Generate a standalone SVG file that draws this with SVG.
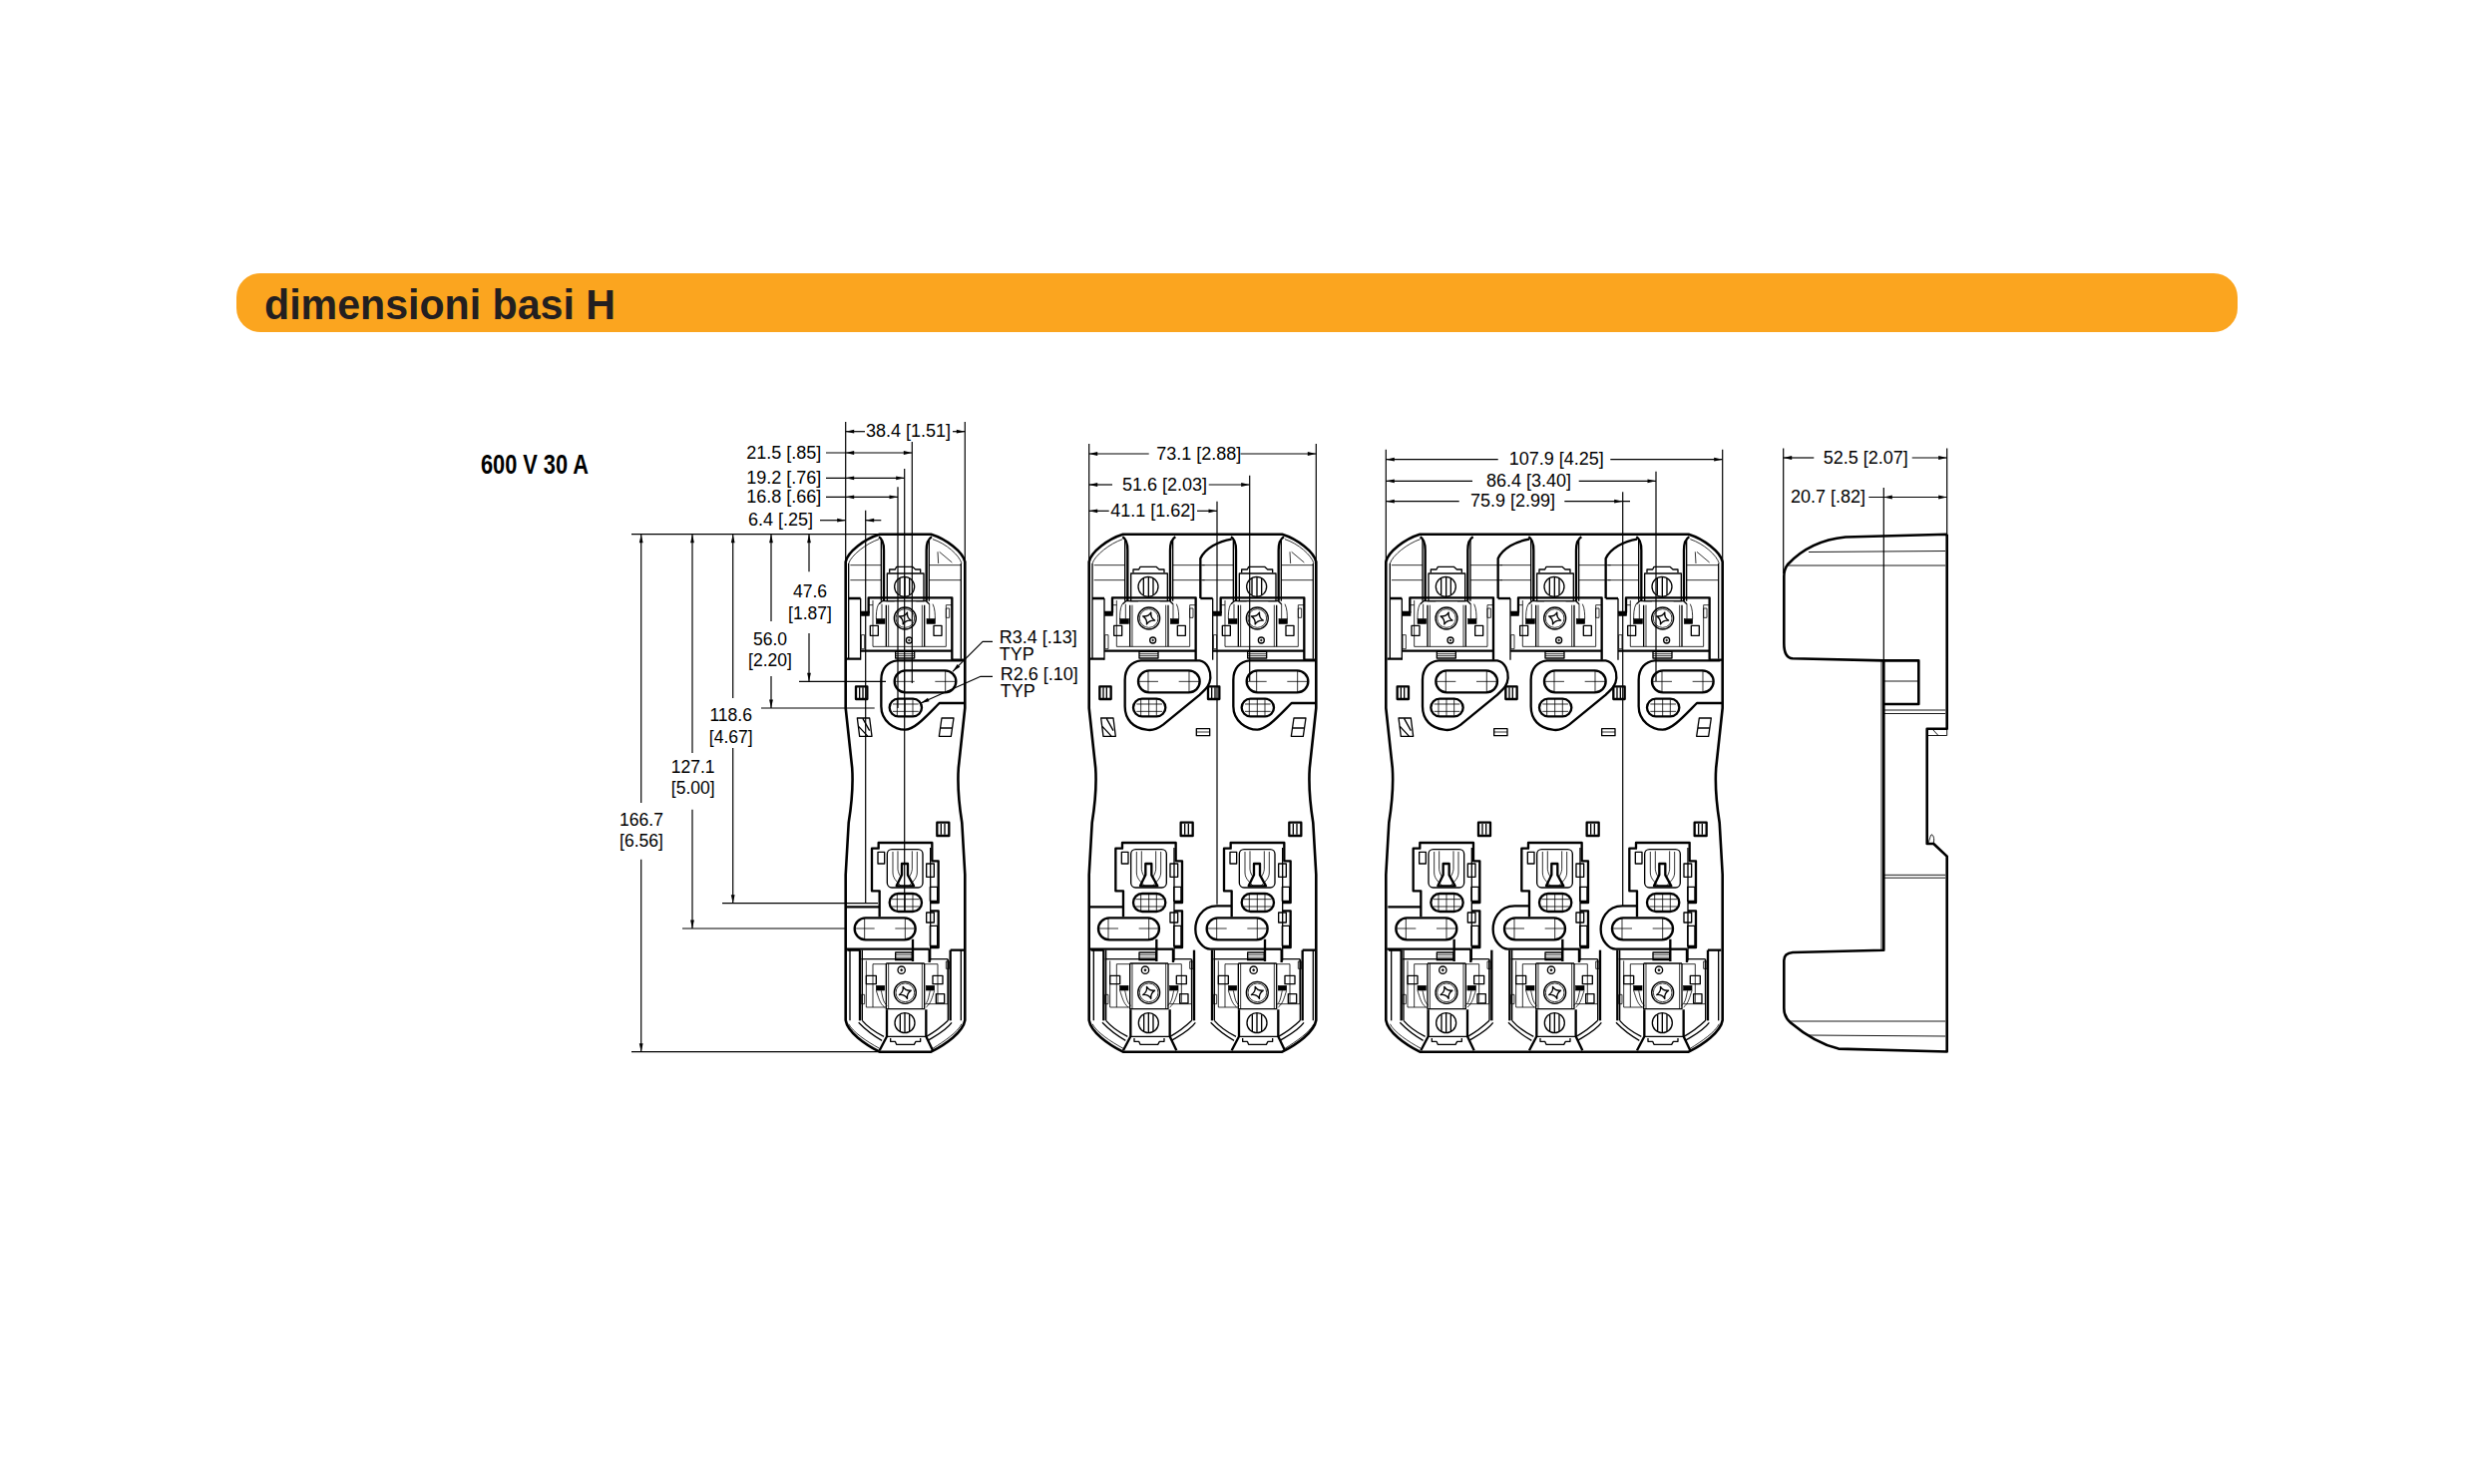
<svg xmlns="http://www.w3.org/2000/svg" xmlns:xlink="http://www.w3.org/1999/xlink" width="2480" height="1488" viewBox="0 0 2480 1488">
<style>
.k,.m,.t,.o,.i,.d,.ae,.se{fill:none;stroke:#000;stroke-linejoin:round}
.k{stroke-width:7}.m{stroke-width:4}.t{stroke-width:2.4}
.o{stroke-width:2.6}.i{stroke-width:.9}.d{stroke-width:1.2}
.ae{stroke-width:1.2;marker-end:url(#ah)}
.se{stroke-width:1.2;marker-start:url(#ah);marker-end:url(#ah)}
.lab{font-family:"Liberation Sans",Arial,sans-serif;font-size:18px;fill:#000}
.c{text-anchor:middle;font-size:17.5px}
.dk{fill:#000;stroke:#000;stroke-width:2}
</style>
<defs>
<marker id="ah" markerUnits="userSpaceOnUse" markerWidth="10" markerHeight="5" refX="8.5" refY="2" orient="auto-start-reverse" overflow="visible"><path d="M0,.1 L8.5,2 L0,3.9Z" fill="#000"/></marker>
<path id="star" d="M0,-19 Q3,-4 19,0 Q3,4 0,19 Q-3,4 -19,0 Q-3,-4 0,-19Z" class="m"/>

<g id="ut">
<path class="k" d="M783,385 C795,392 798,405 798,425 V578"/>
<path class="k" d="M942,385 C930,392 926,405 926,425 V578"/>
<path class="m" d="M790,392 V578 M934,392 V578"/>
<path class="t" d="M697,470 H790 M934,470 H1030 M697,515 H790 M934,515 H1030"/>
<path class="m" d="M808,578 V495 H918 V578 M808,495 H918"/>
<path class="m" d="M815,493 V483 H832 L836,475 H884 L893,483 H908 V493"/>
<circle class="m" cx="860" cy="535" r="30"/>
<path class="m" d="M846,510 V560 M861,505 V565 M875,510 V560"/>
<path class="k" d="M728,612 H752 V568 H1003 V755"/>
<path class="m" d="M728,570 V755"/>
<path class="k" d="M728,728 H1003"/>
<path class="t" d="M765,576 V715 H985 V590 M985,590 H1003 M765,590 H752"/>
<path class="m" d="M805,590 V715 M920,590 V715 M805,578 H920"/>
<path class="t" d="M812,590 V715 M913,590 V715"/>
<path class="m" d="M783,587 L793,578 H830 M895,578 H925 L935,587"/>
<path class="t" d="M782,587 C775,600 775,620 775,632 M792,587 V632 M935,587 V632 M945,587 C952,600 952,620 952,632"/>
<rect class="dk" x="775" y="632" width="26" height="14"/>
<rect class="dk" x="927" y="632" width="25" height="14"/>
<rect class="m" x="757" y="652" width="24" height="30"/>
<rect class="m" x="948" y="652" width="24" height="30"/>
<rect class="dk" x="730" y="610" width="24" height="12"/>
<rect class="t" x="985" y="600" width="10" height="28"/>
<rect class="t" x="730" y="680" width="10" height="42"/>
<circle class="m" cx="862" cy="630" r="33"/>
<circle class="t" cx="862" cy="630" r="28"/>
<use href="#star" transform="translate(862,630) rotate(20)"/>
<circle class="m" cx="874" cy="696" r="9"/><circle class="dk" cx="874" cy="696" r="2.5"/>
<rect class="m" x="833" y="730" width="57" height="20"/>
<path class="t" d="M833,737 H890 M833,743 H890"/>
<rect class="k" x="830" y="787" width="185" height="66" rx="33"/>
<path class="t" d="M860,787 V853 M830,820 H890 M952,820 H1015 M983,787 V853"/>
<rect class="k" x="815" y="872" width="97" height="53" rx="26.5"/>
<path class="t" d="M825,888 H902 M825,910 H902 M838,874 V923 M862,872 V925 M885,874 V923"/>
<rect class="k" x="714" y="835" width="34" height="38"/>
<path class="m" d="M725,838 V870 M735,838 V870"/>
</g>
<g id="uFirst">
<path class="t" d="M692,465 C700,440 745,405 783,392"/>
<path class="m" d="M692,465 V752"/>
<path class="k" d="M692,570 H728 M684,752 H728"/>
<path class="m" d="M718,930 H755 L762,985 H725Z M722,955 L750,985 M735,932 L755,968"/>
</g>
<g id="uInner">
<path class="k" d="M691,570 V450 C705,420 745,398 785,392"/>
<path class="k" d="M691,570 H728 M691,570"/>
<rect class="m" x="679" y="962" width="40" height="21"/>
<path class="t" d="M679,972 H719"/>
</g>
<g id="uLast">
<path class="t" d="M1032,465 C1025,440 985,405 945,392 M960,430 L962,465 M965,430 L1003,462"/>
<path class="m" d="M1030,465 V752"/>
<path class="k" d="M1003,755 H1040"/>
<path class="m" d="M972,930 H1008 L1000,985 H964Z M968,960 H1003"/>
</g>
<path id="plateClosed" class="k" d="M838,757 H1015 C1040,762 1048,790 1047,810 C1045,835 1030,845 1015,860 L905,950 C885,965 870,968 855,965 C815,960 790,935 790,895 V815 C790,780 810,760 838,757Z"/>
<path id="plateOpen" class="k" d="M1040,885 H965 C925,925 890,965 862,965 C830,965 790,940 790,895 V815 C790,780 810,760 838,757 H1035"/>

<g id="lt">
<path class="k" d="M785,478 V400 H762 V272 H782 V255 H943 V310 H962 V435 H938 M938,460 H962 V570 H938"/>
<path class="m" d="M938,270 V610"/>
<rect class="m" x="808" y="275" width="107" height="115" rx="14"/>
<path class="t" d="M825,282 V345 C825,365 842,375 850,386 M898,282 V345 C898,365 880,375 873,386 M840,280 V335 C842,350 848,355 850,360 M883,280 V335 C881,350 875,355 873,360"/>
<path class="k" d="M852,352 V318 H870 V352 L888,385 H836Z"/>
<rect class="m" x="926" y="318" width="23" height="40"/>
<rect class="m" x="780" y="283" width="20" height="35"/>
<rect class="m" x="937" y="388" width="22" height="42"/>
<rect class="m" x="926" y="465" width="23" height="30"/>
<rect class="m" x="937" y="505" width="22" height="60"/>
<rect class="k" x="815" y="408" width="97" height="54" rx="27"/>
<path class="t" d="M822,425 H905 M822,447 H905 M838,410 V460 M862,408 V462 M885,410 V460"/>
<rect class="k" x="710" y="481" width="183" height="66" rx="33"/>
<path class="t" d="M710,513 H770 M832,513 H893 M740,481 V547 M862,481 V547"/>
<path class="k" d="M885,545 V612 M935,575 V615"/>
<path class="k" d="M885,575 H935"/>
<rect class="m" x="833" y="585" width="50" height="23"/>
<path class="t" d="M833,592 H883 M833,600 H883"/>
<path class="m" d="M805,618 H920 M730,605 H885 M938,605 H990"/>
<path class="m" d="M805,618 V755 H920 V618"/>
<path class="t" d="M812,618 V755 M913,618 V755"/>
<path class="t" d="M745,610 V750 H805 M765,620 V750 M960,620 V735 M990,605 V740 H925 M765,620 H805 M920,620 H960"/>
<rect class="m" x="745" y="655" width="30" height="25"/>
<rect class="dk" x="775" y="685" width="25" height="14"/>
<rect class="dk" x="925" y="685" width="25" height="14"/>
<rect class="m" x="945" y="655" width="30" height="25"/>
<rect class="m" x="955" y="710" width="25" height="28"/>
<rect class="t" x="985" y="612" width="10" height="22"/>
<rect class="t" x="730" y="712" width="10" height="28"/>
<path class="t" d="M775,700 C782,720 785,738 800,750 M790,700 C795,720 795,735 808,745 M950,700 C943,720 940,738 925,750 M937,700 C932,720 932,735 918,745"/>
<circle class="m" cx="851" cy="638" r="11"/><circle class="dk" cx="851" cy="638" r="3"/>
<circle class="m" cx="862" cy="706" r="33"/>
<circle class="t" cx="862" cy="706" r="28"/>
<use href="#star" transform="translate(862,706) rotate(-20)"/>
<circle class="m" cx="861" cy="797" r="30"/>
<path class="m" d="M847,772 V822 M861,767 V827 M875,772 V822"/>
<path class="k" d="M807,757 V838 L785,880 M925,757 V838 L945,880"/>
<path class="m" d="M807,838 H925"/>
<path class="m" d="M818,843 V853 H832 L836,862 H889 L894,853 H908 V843"/>
<path class="k" d="M726,578 V790"/>
<path class="m" d="M733,578 V790"/>
<path class="k" d="M998,578 V790"/>
<path class="m" d="M991,605 V790"/>
<path class="m" d="M722,796 C745,820 765,835 792,850 M733,790 C750,810 772,825 798,838"/>
<path class="m" d="M1002,796 C985,820 955,835 930,850 M991,790 C970,810 950,825 926,838"/>
<rect class="k" x="958" y="194" width="36" height="40"/>
<path class="m" d="M970,198 V230 M981,198 V230"/>
</g>
<g id="lFirst">
<path class="k" d="M686,448 H785 M683,575 H885"/>
<path class="k" d="M688,578 H726"/>
<path class="m" d="M696,578 V790"/>
<path class="t" d="M692,800 C705,825 745,852 785,874"/>
</g>
<g id="lInner">
<path class="k" d="M785,445 H741 C691,445 676,490 676,515 C676,550 701,575 721,575 H885"/>
</g>
<g id="lLast">
<path class="k" d="M998,578 H1038"/>
<path class="m" d="M1030,578 V790"/>
<path class="t" d="M1032,800 C1020,825 980,852 945,874"/>
</g>
</defs>

<rect width="2480" height="1488" fill="#fff"/>

<g id="banner">
<rect x="237" y="274" width="2006" height="59" rx="24" fill="#fba51f"/>
<text x="265" y="320" font-family="'Liberation Sans',Arial,sans-serif" font-weight="700" font-size="42" fill="#231f20" textLength="352" lengthAdjust="spacingAndGlyphs">dimensioni basi H</text>
</g>
<g id="rating">
<text x="482" y="475" font-family="'Liberation Sans',Arial,sans-serif" font-weight="700" font-size="27" fill="#000" textLength="108" lengthAdjust="spacingAndGlyphs">600 V 30 A</text>
</g>

<g id="base-1-pole">
<path class="o" d="M847.7,563.3 c2,-10 19,-23 34,-27.6 H933.3 c15,4.6 32,17.6 34,27.6 V710 l-6.5,60 c-1,15 -.5,30 3.5,55 l3,52 V1023 c-2,12 -19,24 -34,31.7 H881.7 c-15,-7.7 -32,-19.7 -34,-31.7 V877 l3,-52 c4,-25 4.5,-40 3.5,-55 l-6.5,-60 Z"/>
<g transform="translate(620,410) scale(.33333)">
<use href="#ut"/><use href="#uFirst"/><use href="#uLast"/><use href="#plateOpen"/>
</g>
<g transform="translate(620,760) scale(.33333)">
<use href="#lt"/><use href="#lFirst"/><use href="#lLast"/>
</g>
</g>

<g id="base-2-pole">
<path class="o" d="M1091.7,563.3 c2,-10 19,-23 34,-27.6 H1285.3 c15,4.6 32,17.6 34,27.6 V710 l-6.5,60 c-1,15 -.5,30 3.5,55 l3,52 V1023 c-2,12 -19,24 -34,31.7 H1125.7 c-15,-7.7 -32,-19.7 -34,-31.7 V877 l3,-52 c4,-25 4.5,-40 3.5,-55 l-6.5,-60 Z"/>
<g transform="translate(620,410) scale(.33333)">
<g transform="translate(733,0)"><use href="#ut"/><use href="#uFirst"/><use href="#plateClosed"/></g>
<g transform="translate(1059,0)"><use href="#ut"/><use href="#uInner"/><use href="#uLast"/><use href="#plateOpen"/></g>
</g>
<g transform="translate(620,760) scale(.33333)">
<g transform="translate(733,0)"><use href="#lt"/><use href="#lFirst"/></g>
<g transform="translate(1059,0)"><use href="#lt"/><use href="#lInner"/><use href="#lLast"/></g>
</g>
</g>

<g id="base-3-pole">
<path class="o" d="M1389.3,563.3 c2,-10 19,-23 34,-27.6 H1692.7 c15,4.6 32,17.6 34,27.6 V710 l-6.5,60 c-1,15 -.5,30 3.5,55 l3,52 V1023 c-2,12 -19,24 -34,31.7 H1423.3 c-15,-7.7 -32,-19.7 -34,-31.7 V877 l3,-52 c4,-25 4.5,-40 3.5,-55 l-6.5,-60 Z"/>
<g transform="translate(620,410) scale(.33333)">
<g transform="translate(1628,0)"><use href="#ut"/><use href="#uFirst"/><use href="#plateClosed"/></g>
<g transform="translate(1954,0)"><use href="#ut"/><use href="#uInner"/><use href="#plateClosed"/></g>
<g transform="translate(2278,0)"><use href="#ut"/><use href="#uInner"/><use href="#uLast"/><use href="#plateOpen"/></g>
</g>
<g transform="translate(620,760) scale(.33333)">
<g transform="translate(1628,0)"><use href="#lt"/><use href="#lFirst"/></g>
<g transform="translate(1954,0)"><use href="#lt"/><use href="#lInner"/></g>
<g transform="translate(2278,0)"><use href="#lt"/><use href="#lInner"/><use href="#lLast"/></g>
</g>
</g>

<g id="side-view">
<path class="o" d="M1951.7,535.8 L1850,538.5 C1825,541 1805,552 1792,566 C1789,570 1788.3,574 1788.3,578 V645 C1788.3,655 1791,660 1797,660.3 L1888.3,662.4 V952.8 L1797,955 C1791,955.5 1788.3,958 1788.3,963 V1011 C1788.3,1018 1791,1022 1795,1025.4 C1810,1038 1825,1047 1843,1051.6 L1951.7,1054.5 V858.6 L1938.3,846 H1931.7 V730.8 H1951.7 V535.8"/>
<path class="o" d="M1888.3,662.4 H1923.3 V706 H1888.3"/>
<path class="i" d="M1886,662 V953 M1888.3,683 H1923.3 M1813,553.5 L1950,552.5 M1792,567 H1950 M1888.3,712 H1950 M1888.3,715.5 H1950 M1888.3,877.3 H1950 M1888.3,880.2 H1950 M1795,1024 H1950 M1813,1038 L1950,1039 M1931.7,737.5 H1951.7 V730.8 M1937,731 L1943,737.5 M1938,846 C1940,840 1937,836 1936,837 C1934,840 1934,845 1932,846"/>
</g>

<g id="connectors">
<g id="dim-1-pole">
<path class="d" d="M847.7,423 V563 M967.3,423 V563 M914.3,443 V685 M906.7,470 V915 M900,488.3 V710 M867.7,511.7 V905"/>
<path class="ae" d="M867,432.7 H847.7"/><path class="ae" d="M955,432.7 H967.3"/>
<path class="d" d="M828,454 H847.7 M828,479.3 H847.7 M828,498.3 H847.7"/>
<path class="se" d="M847.7,454 H914.3"/><path class="se" d="M847.7,479.3 H906.7"/><path class="se" d="M847.7,498.3 H900"/>
<path class="ae" d="M822,521.7 H847.7"/><path class="ae" d="M883.3,521.7 H867.7"/>
<path class="d" d="M633,535.7 H882 M633,1054.7 H882 M684,931 H847.7 M724,905.7 H880 M763,710 H876.7 M801,683.3 H888"/>
<path class="ae" d="M642.7,805 V535.7"/><path class="ae" d="M642.7,861.7 V1054.7"/>
<path class="ae" d="M694,755 V535.7"/><path class="ae" d="M694,811.7 V931"/>
<path class="ae" d="M734.7,700 V535.7"/><path class="ae" d="M734.7,750 V905.7"/>
<path class="ae" d="M773,623 V535.7"/><path class="ae" d="M773,678 V710"/>
<path class="ae" d="M811,573.3 V535.7"/><path class="ae" d="M811,635 V683.3"/>
<path class="ae" d="M995,643.3 H985 L955,673.3"/>
<path class="ae" d="M995,678.3 H983 L923,705"/>
<text class="lab" x="868" y="438.3">38.4 [1.51]</text>
<text class="lab" x="748.3" y="460">21.5 [.85]</text>
<text class="lab" x="748.3" y="485">19.2 [.76]</text>
<text class="lab" x="748.3" y="504">16.8 [.66]</text>
<text class="lab" x="750" y="526.7">6.4 [.25]</text>
<text class="lab c" x="643" y="827.7">166.7</text><text class="lab c" x="643" y="849.3">[6.56]</text>
<text class="lab c" x="694.7" y="775">127.1</text><text class="lab c" x="694.7" y="796">[5.00]</text>
<text class="lab c" x="732.7" y="723.3">118.6</text><text class="lab c" x="732.7" y="745">[4.67]</text>
<text class="lab c" x="772" y="646.7">56.0</text><text class="lab c" x="772" y="668.3">[2.20]</text>
<text class="lab c" x="812" y="599.3">47.6</text><text class="lab c" x="812" y="621">[1.87]</text>
<text class="lab" x="1001.7" y="645">R3.4 [.13]</text><text class="lab" x="1001.7" y="662.3">TYP</text>
<text class="lab" x="1002.7" y="682">R2.6 [.10]</text><text class="lab" x="1002.7" y="699">TYP</text>
</g>
<g id="dim-2-pole">
<path class="d" d="M1091.7,445 V563 M1319.3,445 V563 M1252.7,476.7 V683 M1220,502.7 V906.7"/>
<path class="ae" d="M1151.7,455 H1091.7"/><path class="ae" d="M1243.5,455 H1319.3"/>
<path class="ae" d="M1115,486 H1091.7"/><path class="ae" d="M1211.7,486 H1252.7"/>
<path class="ae" d="M1111.7,512.3 H1091.7"/><path class="ae" d="M1200,512.3 H1220"/>
<text class="lab" x="1159.3" y="460.7">73.1 [2.88]</text>
<text class="lab" x="1125" y="492">51.6 [2.03]</text>
<text class="lab" x="1113.3" y="518.3">41.1 [1.62]</text>
</g>
<g id="dim-3-pole">
<path class="d" d="M1389.3,450.7 V563 M1726.7,450.7 V563 M1660,472.7 V683 M1626.7,493.3 V908 M1626.7,502.7 H1634"/>
<path class="ae" d="M1501.7,460.7 H1389.3"/><path class="ae" d="M1614.3,460.7 H1726.7"/>
<path class="ae" d="M1476,482.3 H1389.3"/><path class="ae" d="M1582.7,482.3 H1660"/>
<path class="ae" d="M1462.7,502.7 H1389.3"/><path class="ae" d="M1568.3,502.7 H1626.7"/>
<text class="lab" x="1512.7" y="466">107.9 [4.25]</text>
<text class="lab" x="1490" y="488.3">86.4 [3.40]</text>
<text class="lab" x="1474" y="508.3">75.9 [2.99]</text>
</g>
<g id="dim-side">
<path class="d" d="M1787.7,449.5 V575 M1951.7,449.5 V536 M1888.3,489 V662 M1873.3,498.5 H1888.3"/>
<path class="ae" d="M1818.3,459 H1787.7"/><path class="ae" d="M1916.7,459 H1951.7"/>
<path class="se" d="M1888.3,498.5 H1951.7"/>
<text class="lab" x="1827.7" y="465.3">52.5 [2.07]</text>
<text class="lab" x="1795" y="503.9">20.7 [.82]</text>
</g>
</g>
</svg>
